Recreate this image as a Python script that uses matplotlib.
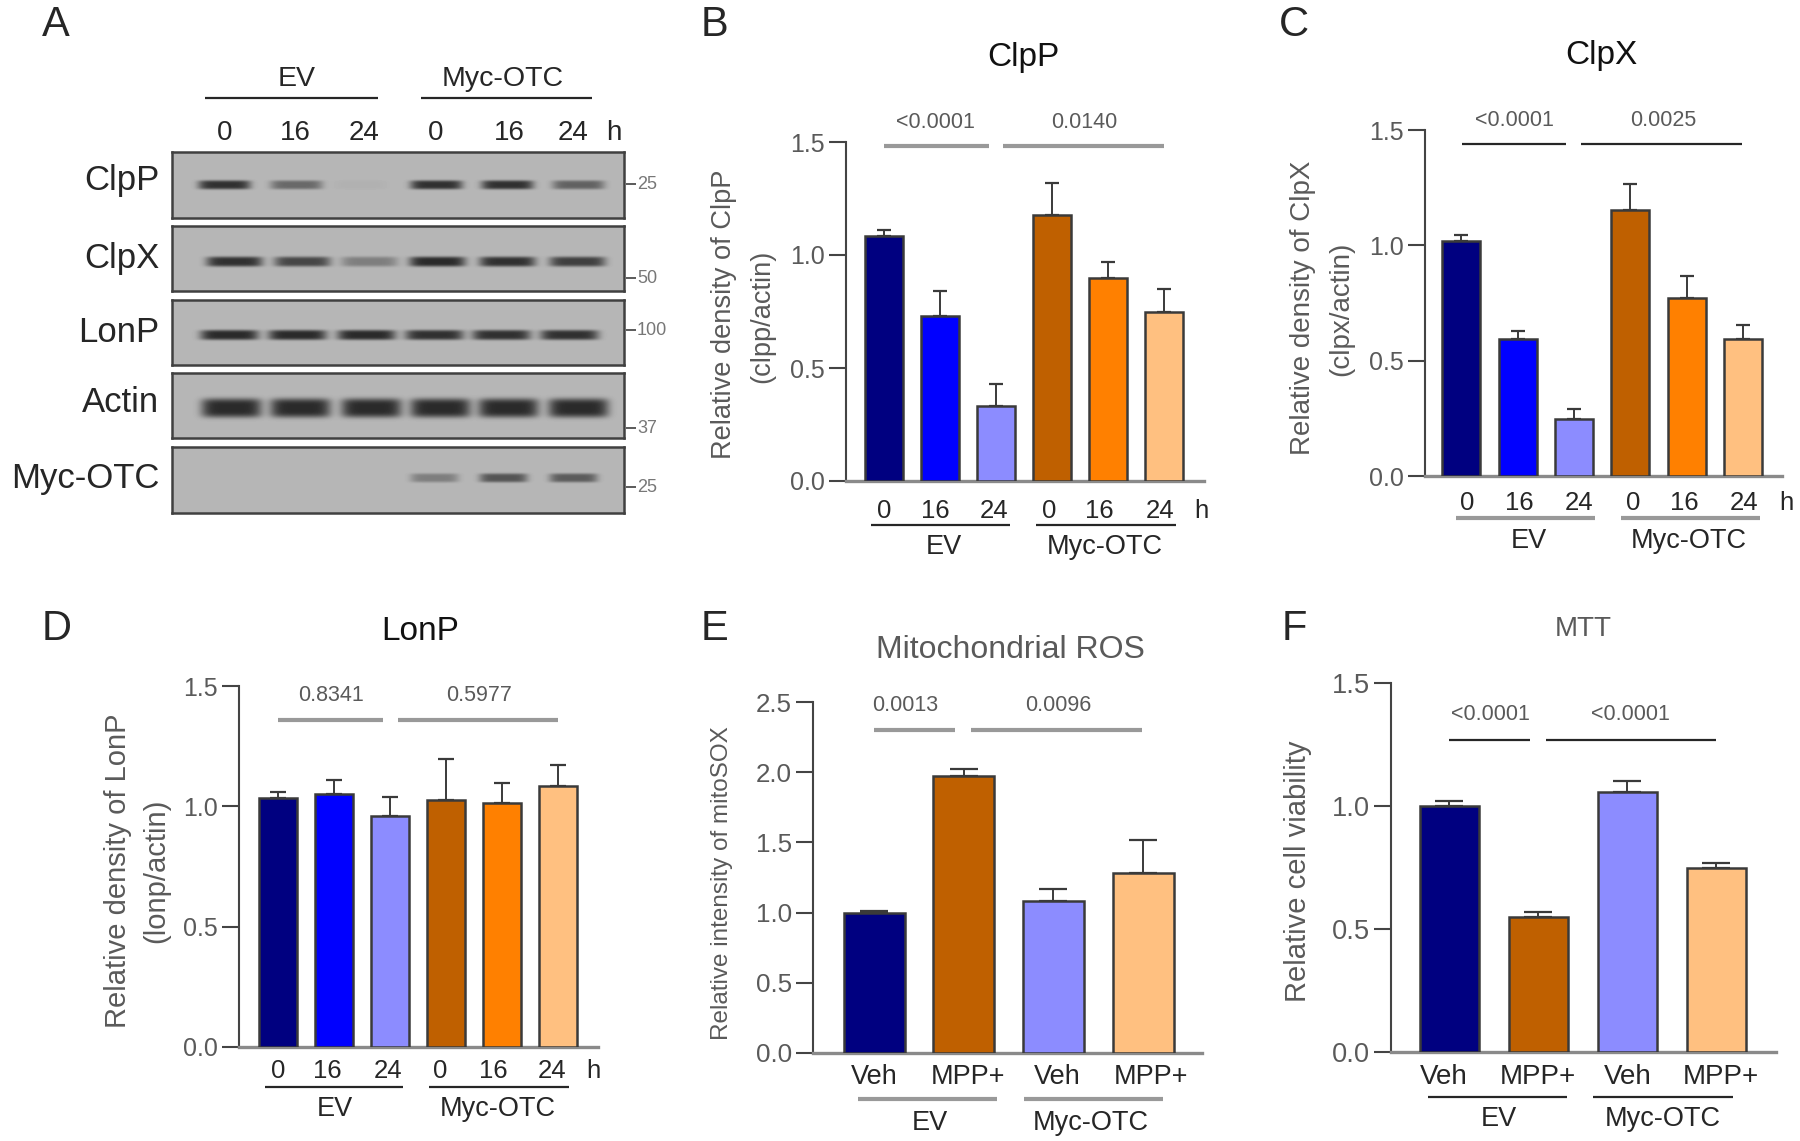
#!/usr/bin/env python

import numpy as np
import matplotlib
matplotlib.use('Agg')
import matplotlib.pyplot as plt

plt.rcParams['font.family'] = ['Liberation Sans', 'DejaVu Sans']

W, H = 1800, 1141

NAVY, BLUE, PERI = '#000080', '#0000ff', '#8c8cff'
BROWN, ORANGE, PEACH = '#bf6000', '#ff8000', '#ffc080'
DARK, MID, PALE = '#262626', '#5a5a5a', '#999999'

# bar values
clpp_mean = [1.085, 0.73, 0.33, 1.175, 0.90, 0.75]
clpp_err = [0.025, 0.11, 0.10, 0.143, 0.07, 0.10]
clpx_mean = [1.02, 0.595, 0.245, 1.155, 0.77, 0.595]
clpx_err = [0.025, 0.035, 0.045, 0.11, 0.095, 0.06]
lonp_mean = [1.035, 1.05, 0.96, 1.025, 1.012, 1.083]
lonp_err = [0.026, 0.058, 0.078, 0.17, 0.083, 0.09]
ros_mean = [1.0, 1.975, 1.085, 1.28]
ros_err = [0.012, 0.045, 0.08, 0.24]
mtt_mean = [1.0, 0.547, 1.056, 0.747]
mtt_err = [0.022, 0.023, 0.044, 0.023]

time_labels = ['0', '16', '24', '0', '16', '24']
drug_labels = ['Veh', 'MPP+', 'Veh', 'MPP+']

# western blot: band strength per lane, 0 = no band
blot_names = ['ClpP', 'ClpX', 'LonP', 'Actin', 'Myc-OTC']
blot_bands = [
    [0.95, 0.55, 0.04, 0.95, 0.95, 0.6],
    [0.95, 0.8, 0.4, 1.0, 0.95, 0.85],
    [1.0, 1.0, 1.0, 0.95, 0.95, 0.95],
    [1.0, 1.0, 1.0, 1.0, 1.0, 1.0],
    [0.0, 0.0, 0.0, 0.4, 0.7, 0.65],
]
blot_lanes = [
    [224, 296, 360, 436, 507, 578],
    [234, 302, 369, 437, 507, 577],
    [229, 297, 366, 434, 501, 569],
    [231, 300, 371, 440, 508, 578],
    [224, 296, 360, 434, 503, 573],
]
blot_rows = [(152, 218), (226, 291), (300, 365), (373, 438), (447, 513)]
blot_label_y = [178, 256, 330, 400, 476]
blot_band_y = [0.49, 0.54, 0.53, 0.53, 0.46]
blot_band_h = [4.5, 5.0, 5.0, 9.5, 4.5]
blot_band_w = [26, 28, 29, 30, 24]
mw_labels = ['25', '50', '100', '37', '25']
mw_y = [184, 278, 330, 428, 487]

fig = plt.figure(figsize=(W / 100, H / 100), dpi=100)

# overlay in pixel coordinates for labels and group lines
ov = fig.add_axes([0, 0, 1, 1], zorder=5)
ov.set_xlim(0, W)
ov.set_ylim(H, 0)
ov.axis('off')


def txt(x, y, s, size, color=DARK, **kw):
    kw.setdefault('ha', 'center')
    ov.text(x, y + 2.5, s, fontsize=size, color=color, va='center', **kw)


def hline(x0, x1, y, color=DARK, lw=1.6):
    ov.plot([x0, x1], [y, y], color=color, lw=lw, solid_capstyle='butt')


def bar_panel(box, ymax, yticks, first, step, width, mean, err, colors,
              tick_size, capsize):
    left, right, top, bottom = box
    ax = fig.add_axes([left / W, 1 - bottom / H, (right - left) / W, (bottom - top) / H])
    x = np.arange(len(mean))
    ax.bar(x, mean, width / step, color=colors, edgecolor='#3a3a3a', linewidth=1.8, zorder=3)
    ax.errorbar(x, mean, yerr=[np.zeros(len(err)), err], fmt='none', ecolor='#3a3a3a',
                elinewidth=1.4, capsize=capsize, capthick=1.6, zorder=2)
    ax.set_xlim((left - first) / step, (right - first) / step)
    ax.set_ylim(0, ymax)
    ax.set_yticks(yticks)
    ax.set_yticklabels(['%.1f' % t for t in yticks], fontsize=tick_size, color=MID)
    ax.set_xticks([])
    ax.tick_params(axis='y', length=12, width=1.5, color='#444444', pad=3)
    ax.patch.set_alpha(0)
    for name in ['top', 'right']:
        ax.spines[name].set_visible(False)
    ax.spines['left'].set_linewidth(1.5)
    ax.spines['left'].set_color('#444444')
    ax.spines['bottom'].set_linewidth(2.4)
    ax.spines['bottom'].set_color('#8a8a8a')
    return ax


def blot_image(w, h, lanes, bands, band_y, band_h, band_w):
    xx, yy = np.meshgrid(np.arange(w), np.arange(h))
    img = np.full((h, w), 182.0)
    for cx, s in zip(lanes, bands):
        prof = np.exp(-((xx - cx) / band_w) ** 6) * np.exp(-((yy - band_y * h) / band_h) ** 4)
        img -= prof * s * 140
    return img


# panel A
for i, name in enumerate(blot_names):
    y0, y1 = blot_rows[i]
    ax = fig.add_axes([172 / W, 1 - y1 / H, 452 / W, (y1 - y0) / H])
    img = blot_image(452, y1 - y0, [c - 172 for c in blot_lanes[i]], blot_bands[i],
                     blot_band_y[i], blot_band_h[i], blot_band_w[i])
    ax.imshow(img, cmap='gray', vmin=0, vmax=255, aspect='auto', interpolation='bilinear')
    ax.set_xticks([])
    ax.set_yticks([])
    for sp in ax.spines.values():
        sp.set_linewidth(1.8)
        sp.set_color('#404040')
    txt(159, blot_label_y[i], name, 25, ha='right')
for label, y in zip(mw_labels, mw_y):
    hline(626, 636, y, color=MID, lw=1.4)
    txt(637, y - 2, label, 13, color='#777777', ha='left')
txt(56, 22, 'A', 30)
txt(297, 76, 'EV', 20.5)
txt(503, 76, 'Myc-OTC', 20.5)
hline(205, 378, 98)
hline(421, 592, 98)
for x, s in zip([225, 295, 364, 436, 509, 573], time_labels):
    txt(x, 130, s, 20)
txt(614, 130, 'h', 20)

six = [NAVY, BLUE, PERI, BROWN, ORANGE, PEACH]
four_e = [NAVY, BROWN, PERI, PEACH]
ticks15 = [0.0, 0.5, 1.0, 1.5]

# panel B
bar_panel((846, 1204, 142, 481), 1.5, ticks15, 883.6, 56.1, 38, clpp_mean, clpp_err, six, 18, 5)
txt(714, 23, 'B', 30)
txt(1023, 55, 'ClpP', 24, color='#111111')
txt(724, 312, 'Relative density of ClpP', 19.6, color=MID, rotation=90)
txt(762, 314, '(clpp/actin)', 19.6, color=MID, rotation=90)
for x, s in zip([884, 935, 994, 1049, 1099, 1160], time_labels):
    txt(x, 508, s, 18.5)
txt(1201, 508, 'h', 18.5)
hline(871, 1010, 525)
hline(1036, 1176, 525)
txt(944, 544, 'EV', 19.5)
txt(1105, 544, 'Myc-OTC', 19.5)
hline(884, 989, 146, color=PALE, lw=3)
hline(1003, 1164, 146, color=PALE, lw=3)
txt(935, 120, '<0.0001', 15.5, color=MID)
txt(1084, 120, '0.0140', 15.5, color=MID)

# panel C
bar_panel((1425, 1782, 130, 476), 1.5, ticks15, 1461.4, 56.3, 38, clpx_mean, clpx_err, six, 18, 5)
txt(1294, 23, 'C', 30)
txt(1601, 53, 'ClpX', 24, color='#111111')
txt(1303, 305, 'Relative density of ClpX', 20, color=MID, rotation=90)
txt(1341, 306, '(clpx/actin)', 20, color=MID, rotation=90)
for x, s in zip([1467, 1519, 1579, 1633, 1684, 1744], time_labels):
    txt(x, 500, s, 18.5)
txt(1786, 500, 'h', 18.5)
hline(1456, 1595, 518, color=PALE, lw=3)
hline(1621, 1760, 518, color=PALE, lw=3)
txt(1529, 538, 'EV', 19.5)
txt(1689, 538, 'Myc-OTC', 19.5)
hline(1462, 1566, 144)
hline(1581, 1742, 144)
txt(1514, 118, '<0.0001', 15.5, color=MID)
txt(1663, 118, '0.0025', 15.5, color=MID)

# panel D
bar_panel((239, 598, 686, 1047), 1.5, ticks15, 277.7, 56.1, 38, lonp_mean, lonp_err, six, 18, 6)
txt(57, 626, 'D', 30)
txt(420, 629, 'LonP', 24, color='#111111')
txt(118, 868, 'Relative density of LonP', 21, color=MID, rotation=90)
txt(156, 868, '(lonp/actin)', 21, color=MID, rotation=90)
for x, s in zip([278, 327, 388, 440, 493, 552], time_labels):
    txt(x, 1068, s, 18.5)
txt(593, 1068, 'h', 18.5)
hline(265, 403, 1087)
hline(429, 569, 1087)
txt(335, 1106, 'EV', 19.5)
txt(498, 1106, 'Myc-OTC', 19.5)
hline(278, 383, 720, color=PALE, lw=3)
hline(398, 558, 720, color=PALE, lw=3)
txt(331, 693, '0.8341', 15.5, color=MID)
txt(479, 693, '0.5977', 15.5, color=MID)

# panel E
bar_panel((813, 1202, 702, 1053), 2.5, [0.0, 0.5, 1.0, 1.5, 2.0, 2.5], 874, 89.7, 61, ros_mean, ros_err,
          four_e, 18.7, 10)
txt(714, 626, 'E', 30)
txt(1010, 647, 'Mitochondrial ROS', 23, color=MID)
txt(722, 881, 'Relative intensity of mitoSOX', 17.5, color=MID, rotation=90)
for x, s in zip([874, 968, 1057, 1151], drug_labels):
    txt(x, 1075, s, 19.5)
hline(858, 997, 1099, color=PALE, lw=3)
hline(1024, 1163, 1099, color=PALE, lw=3)
txt(930, 1120, 'EV', 19.5)
txt(1091, 1120, 'Myc-OTC', 19.5)
hline(874, 955, 730, color=PALE, lw=3)
hline(971, 1142, 730, color=PALE, lw=3)
txt(905, 703, '0.0013', 15.5, color=MID)
txt(1058, 703, '0.0096', 15.5, color=MID)

# panel F
bar_panel((1391, 1776, 683, 1052), 1.5, ticks15, 1449.4, 88.9, 59, mtt_mean, mtt_err, four_e, 19.6, 10)
txt(1294, 626, 'F', 30)
txt(1583, 626, 'MTT', 20, color=MID)
txt(1298, 869, 'Relative cell viability', 21, color=MID, rotation=90)
for x, s in zip([1444, 1538, 1628, 1721], drug_labels):
    txt(x, 1075, s, 20)
hline(1428, 1567, 1097)
hline(1593, 1733, 1097)
txt(1499, 1116, 'EV', 19.5)
txt(1663, 1116, 'Myc-OTC', 19.5)
hline(1449, 1530, 739.5)
hline(1546, 1716, 739.5)
txt(1490, 712, '<0.0001', 15.5, color=MID)
txt(1630, 712, '<0.0001', 15.5, color=MID)

plt.savefig('out.png', dpi=100)
